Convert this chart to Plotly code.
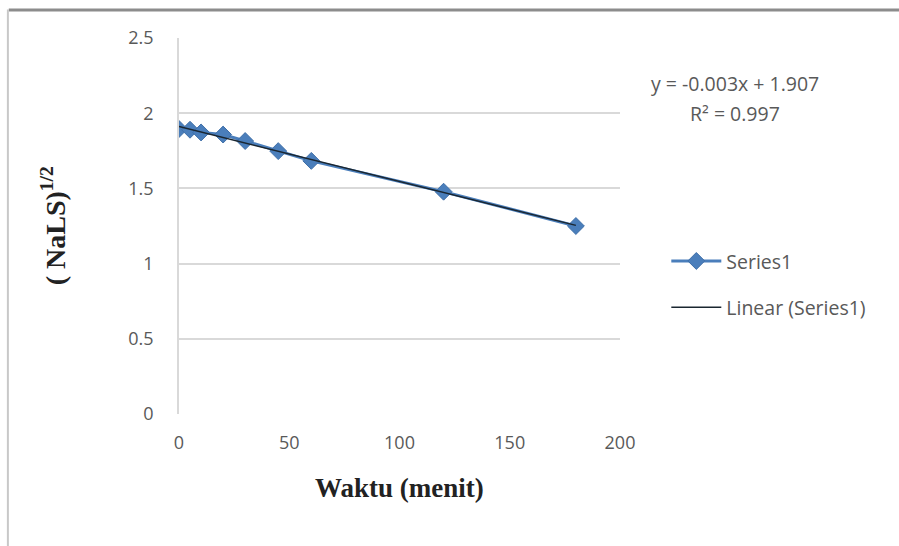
import numpy as np
import plotly.graph_objects as go

waktu = [0, 5, 10, 20, 30, 45, 60, 120, 180]
nals = [1.895, 1.89, 1.872, 1.858, 1.815, 1.748, 1.683, 1.478, 1.25]
x_ticks = [0, 50, 100, 150, 200]
y_ticks = [0, 0.5, 1, 1.5, 2, 2.5]
eq_text = "y = -0.003x + 1.907"
r2_text = "R² = 0.997"

slope, intercept = np.polyfit(waktu, nals, 1)
trend_x = [min(waktu), max(waktu)]
trend_y = [slope * v + intercept for v in trend_x]

fig = go.Figure()
fig.add_trace(go.Scatter(
    x=waktu, y=nals, mode="lines+markers", name="Series1",
    line=dict(color="#4a7ebb", width=3),
    marker=dict(symbol="diamond", size=13, color="#4a7ebb",
                line=dict(color="#3f6fa8", width=1)),
    legendgroup="a",
))
fig.add_trace(go.Scatter(
    x=trend_x, y=trend_y, mode="lines", name="Linear (Series1)",
    line=dict(color="#1a2630", width=1.5),
    legendgroup="b",
))

sans = "Open Sans, Lato, sans-serif"
serif = "Liberation Serif, Times New Roman, serif"
tick_font = dict(family=sans, size=18, color="#595959")

fig.update_layout(
    width=899, height=546,
    margin=dict(l=179, r=279, t=38, b=132),
    paper_bgcolor="white", plot_bgcolor="white",
    showlegend=True,
    legend=dict(x=1.105, y=0.345, xanchor="left", yanchor="middle",
                font=dict(family=sans, size=19.5, color="#595959"),
                tracegroupgap=18, traceorder="grouped", itemwidth=50,
                bgcolor="rgba(0,0,0,0)"),
    xaxis=dict(range=[0, 200], tickvals=x_ticks, showgrid=False, zeroline=False,
               showline=False, ticks="", tickfont=tick_font, ticklabelstandoff=16,
               fixedrange=True),
    yaxis=dict(range=[0, 2.5], tickvals=y_ticks, showgrid=True, gridcolor="#d9d9d9",
               gridwidth=1.5, zeroline=False, showline=True, linecolor="#d9d9d9",
               linewidth=1.5, ticks="", tickfont=tick_font, ticklabelstandoff=20,
               fixedrange=True),
    annotations=[
        dict(text="<b>Waktu (menit)</b>", xref="paper", yref="paper", x=0.5, y=-0.197,
             xanchor="center", yanchor="middle", showarrow=False,
             font=dict(family=serif, size=27, color="#222")),
        dict(text="<b>( NaLS)<sup>1/2</sup></b>", xref="paper", yref="paper", x=-0.285, y=0.5,
             xanchor="center", yanchor="middle", showarrow=False, textangle=-90,
             font=dict(family=serif, size=28, color="#222")),
        dict(text=eq_text, xref="paper", yref="paper", x=1.261, y=0.878,
             xanchor="center", yanchor="middle", showarrow=False,
             font=dict(family=sans, size=19.5, color="#595959")),
        dict(text=r2_text, xref="paper", yref="paper", x=1.261, y=0.80,
             xanchor="center", yanchor="middle", showarrow=False,
             font=dict(family=sans, size=19.5, color="#595959")),
    ],
    shapes=[
        dict(type="line", xref="paper", yref="paper", x0=-0.386, x1=1.64, y0=1.0745, y1=1.0745,
             line=dict(color="#8c8c8c", width=3)),
        dict(type="line", xref="paper", yref="paper", x0=-0.388, x1=-0.388, y0=1.076, y1=-0.36,
             line=dict(color="#c8c8c8", width=2)),
    ],
)

fig.write_html("out.html")
